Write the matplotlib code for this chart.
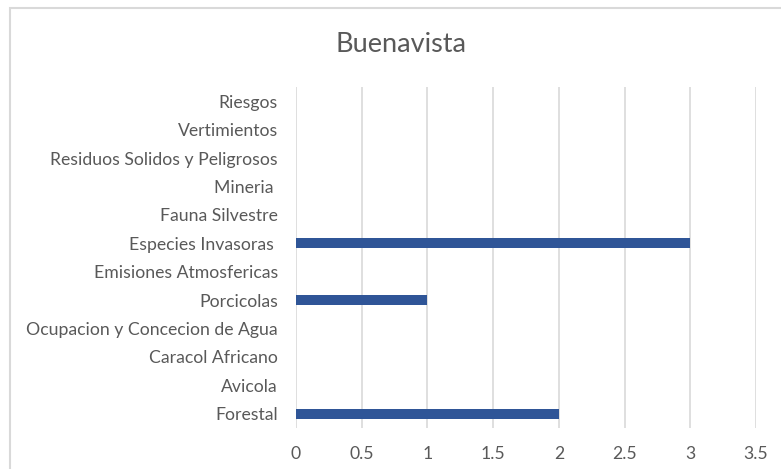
import matplotlib
matplotlib.use("Agg")
import matplotlib.pyplot as plt
from matplotlib.patches import Rectangle

plt.rcParams['font.family'] = ['Lato', 'DejaVu Sans']

categories = ["Forestal", "Avicola", "Caracol Africano", "Ocupacion y Concecion de Agua",
              "Porcicolas", "Emisiones Atmosfericas", "Especies Invasoras ", "Fauna Silvestre",
              "Mineria ", "Residuos Solidos y Peligrosos", "Vertimientos", "Riesgos"]
values = [2, 0, 0, 0, 1, 0, 3, 0, 0, 0, 0, 0]
xticks = [0, 0.5, 1, 1.5, 2, 2.5, 3, 3.5]
xticklabels = ["0", "0.5", "1", "1.5", "2", "2.5", "3", "3.5"]
title = "Buenavista"

W, H = 781, 469
fig = plt.figure(figsize=(W / 100, H / 100), dpi=100)
fig.patch.set_facecolor("white")
fig.patches.append(Rectangle((10 / W, -0.1), 1.2, 1 - 8 / H + 0.1, transform=fig.transFigure,
                             fill=False, edgecolor="#D9D9D9", linewidth=1.5))

ax = fig.add_axes([296 / W, 1 - 428 / H, (756 - 296) / W, (428 - 87) / H])
ypos = list(range(len(categories)))
ax.barh(ypos, values, height=0.36, color="#2F5597", zorder=3)
ax.set_xlim(0, 3.5)
ax.set_ylim(-0.5, len(categories) - 0.5)
ax.set_yticks(ypos)
ax.set_yticklabels(categories)
ax.set_xticks(xticks)
ax.set_xticklabels(xticklabels)
ax.tick_params(axis="both", length=0, labelsize=12.7, colors="#595959")
ax.tick_params(axis="y", pad=13)
ax.tick_params(axis="x", pad=13)
ax.grid(axis="x", color="#D9D9D9", linewidth=1.2, zorder=0)
for s in ax.spines.values():
    s.set_visible(False)
ax.set_facecolor("none")

fig.text(401 / W, 1 - 45 / H, title, ha="center", va="center", fontsize=19.5, color="#595959")

fig.savefig("out.png", dpi=100)
